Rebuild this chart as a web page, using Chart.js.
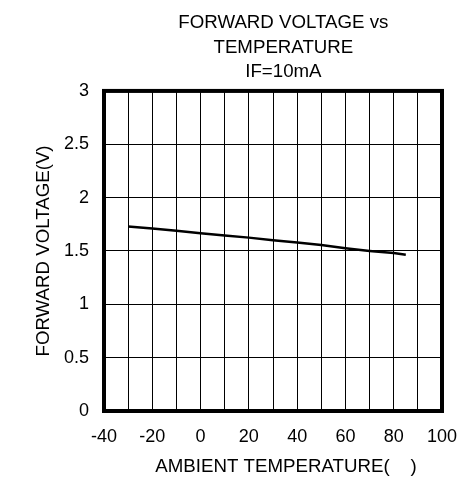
<!DOCTYPE html>
<html>
<head>
<meta charset="utf-8">
<script src="https://cdn.jsdelivr.net/npm/chart.js@4"></script>
<style>
  body { margin: 0; background: #fff; }
  #vf_chart { display: block; }
</style>
</head>
<body>
<canvas id="vf_chart" width="474" height="478"></canvas>
<script>
// values
var temps = [-30, -20, -10, 0, 10, 20, 30, 40, 50, 60, 70, 80, 85];
var vf = [1.73, 1.71, 1.69, 1.665, 1.645, 1.625, 1.60, 1.58, 1.555, 1.525, 1.50, 1.48, 1.465];
var titleLines = ["    FORWARD VOLTAGE vs", "    TEMPERATURE", "    IF=10mA"];
var xTitle = "     AMBIENT TEMPERATURE(    )";
var yTitle = "FORWARD VOLTAGE(V)";

Chart.defaults.color = "#000";
Chart.defaults.font.family = "'Liberation Sans', Arial, sans-serif";
Chart.defaults.font.size = 18;

// thick box round the plot
var framePlugin = {
  id: "frame",
  afterDraw: function (chart) {
    var a = chart.chartArea;
    var ctx = chart.ctx;
    ctx.save();
    ctx.strokeStyle = "#000";
    ctx.lineWidth = 4;
    ctx.strokeRect(a.left, a.top, a.right - a.left, a.bottom - a.top);
    ctx.restore();
  }
};

new Chart(document.getElementById("vf_chart"), {
  type: "line",
  data: {
    datasets: [
      {
        label: "VF",
        data: temps.map(function (t, i) { return { x: t, y: vf[i] }; }),
        borderColor: "#000",
        borderWidth: 2.5,
        pointRadius: 0,
        fill: false
      }
    ]
  },
  options: {
    responsive: false,
    animation: false,
    devicePixelRatio: 1,
    layout: { padding: { left: 0, right: 32, top: 0, bottom: 0 } },
    plugins: {
      legend: { display: false },
      tooltip: { enabled: false },
      title: {
        display: true,
        text: titleLines,
        fullSize: false,
        font: { size: 18.7, weight: "normal", lineHeight: 1.3 },
        padding: { top: 11, bottom: 7 }
      }
    },
    scales: {
      x: {
        type: "linear",
        min: -40,
        max: 100,
        afterFit: function (s) { s.height = 67; },
        ticks: {
          stepSize: 10,
          padding: 15,
          maxRotation: 0,
          autoSkip: false,
          callback: function (v) { return v % 20 === 0 ? String(v) : ""; }
        },
        grid: { color: "#000", lineWidth: 1, drawTicks: false },
        border: { display: false },
        title: { display: true, text: xTitle, font: { size: 18.7 }, padding: { top: 0, bottom: 0 } }
      },
      y: {
        min: 0,
        max: 3,
        afterFit: function (s) { s.width = 104; },
        ticks: {
          stepSize: 0.5,
          padding: 15,
          callback: function (v) { return String(v); }
        },
        grid: { color: "#000", lineWidth: 1, drawTicks: false },
        border: { display: false },
        title: { display: true, text: yTitle, font: { size: 18.7 }, padding: { top: 33, bottom: 0 } }
      }
    }
  },
  plugins: [framePlugin]
});
</script>
</body>
</html>
